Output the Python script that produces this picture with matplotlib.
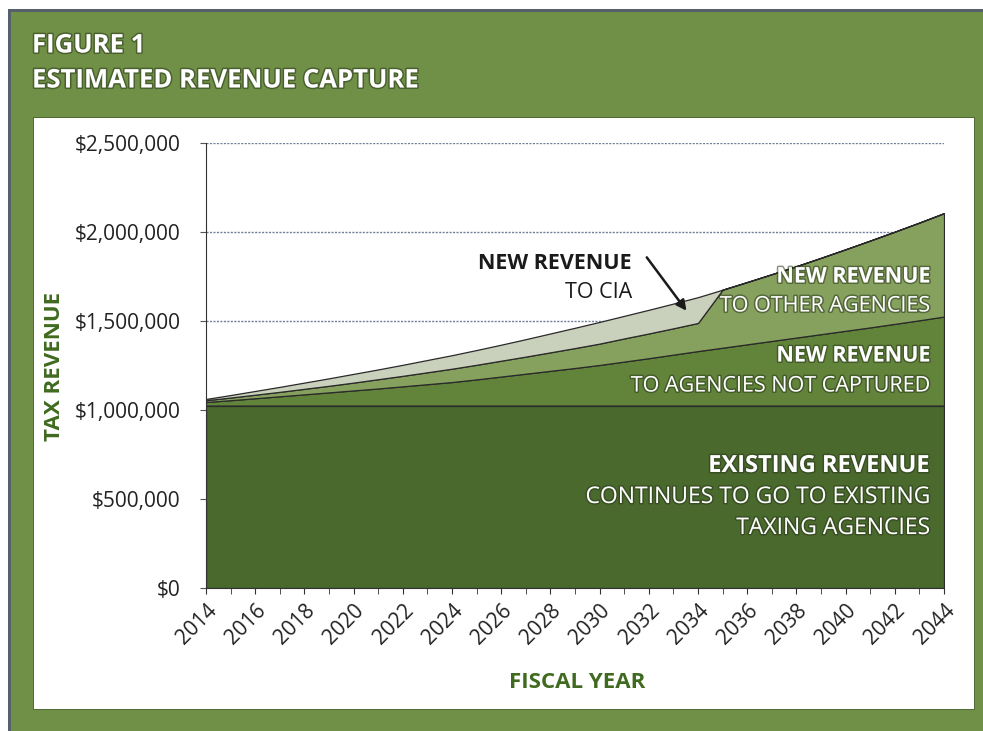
import numpy as np
import matplotlib.pyplot as plt
import matplotlib.patheffects as pe
from matplotlib.patches import Rectangle
from matplotlib.ticker import FuncFormatter, MultipleLocator

# データ（千ドル単位で読み取り）
years = list(range(2014, 2045))
existing = [1025] * 31
not_captured = [20, 30, 41, 52, 63, 74, 85, 96, 108, 120, 132, 147, 163, 179, 195, 211,
                228, 247, 266, 286, 306, 325, 344, 363, 382, 401, 420, 439, 459, 479, 500]
other_agencies = [10, 15, 20, 25, 31, 37, 44, 52, 59, 67, 75, 82, 89, 96, 104, 112,
                  120, 130, 139, 148, 158, 326, 350, 375, 401, 429, 458, 488, 518, 549, 581]
to_cia = [7, 14, 21, 28, 35, 42, 49, 55, 62, 69, 76, 83, 90, 98, 106, 114,
          122, 127, 133, 139, 145, 0, 0, 0, 0, 0, 0, 0, 0, 0, 0]
y_ticks = [0, 500000, 1000000, 1500000, 2000000, 2500000]

FRAME_GREEN = '#6f9046'
DARK_GREEN = '#4a6a2d'
MID_GREEN = '#62843a'
LIGHT_GREEN = '#86a05e'
CIA_GREEN = '#c9d0bb'
LABEL_GREEN = '#3f6a1f'

plt.rcParams['font.family'] = ['Open Sans', 'DejaVu Sans']

fig = plt.figure(figsize=(9.83, 7.31), dpi=100)
fig.patch.set_facecolor('white')

# 枠（グレーの縁、緑の枠、白いパネル）
fig.patches.append(Rectangle((8 / 983, 0), 1, 722 / 731, transform=fig.transFigure,
                             facecolor='#55606a', edgecolor='none', zorder=-10))
fig.patches.append(Rectangle((10.5 / 983, 0), 1, 719 / 731, transform=fig.transFigure,
                             facecolor=FRAME_GREEN, edgecolor='none', zorder=-9))
fig.patches.append(Rectangle((33 / 983, 22 / 731), 941 / 983, 592 / 731,
                             transform=fig.transFigure, facecolor='white',
                             edgecolor='#3c5a22', linewidth=0.6, zorder=-8))

shadow = [pe.withStroke(linewidth=2.2, foreground='#2b3a1c', alpha=0.55)]

fig.text(32 / 983, 1 - 45 / 731, 'FIGURE 1', color='white', fontsize=18.5,
         fontweight='bold', va='center', ha='left', path_effects=shadow)
fig.text(32 / 983, 1 - 80 / 731, 'ESTIMATED REVENUE CAPTURE', color='white', fontsize=18.5,
         fontweight='bold', va='center', ha='left', path_effects=shadow)

ax = fig.add_axes([206 / 983, 1 - 588 / 731, 738 / 983, 445 / 731])
ax.set_facecolor('none')
ax.set_zorder(1)

vals = np.array([existing, not_captured, other_agencies, to_cia], dtype=float) * 1000
ax.stackplot(years, vals, colors=[DARK_GREEN, MID_GREEN, LIGHT_GREEN, CIA_GREEN],
             edgecolor='#2a2a2a', linewidth=0.9, zorder=2)

ax.set_xlim(2014, 2044)
ax.set_ylim(0, 2500000)
ax.set_yticks(y_ticks)
ax.yaxis.set_major_formatter(FuncFormatter(lambda v, p: f'${v:,.0f}'))
ax.xaxis.set_major_locator(MultipleLocator(2))
ax.xaxis.set_minor_locator(MultipleLocator(1))
ax.grid(axis='y', color='#6f7f98', linestyle=(0, (1.5, 1)), linewidth=1.0, zorder=1)
ax.set_axisbelow(True)

for s in ['top', 'right']:
    ax.spines[s].set_visible(False)
ax.spines['left'].set_color('#333333')
ax.spines['bottom'].set_color('#333333')
ax.spines['left'].set_zorder(3)

ax.tick_params(axis='y', direction='out', length=4.5, color='#555555',
               labelsize=15, labelcolor='#222222', pad=14)
ax.tick_params(axis='x', which='both', direction='out', length=4.5, color='#333333')
ax.tick_params(axis='x', labelsize=15, labelcolor='#222222', pad=4)
for lab in ax.get_xticklabels():
    lab.set_rotation(45)
    lab.set_ha('right')
    lab.set_va('top')
    lab.set_rotation_mode('anchor')

# 軸ラベル
fig.text(55 / 983, 1 - 366 / 731, 'TAX REVENUE', color=LABEL_GREEN, fontsize=16,
         fontweight='bold', rotation=90, ha='center', va='center')
fig.text(577 / 983, 1 - 683 / 731, 'FISCAL YEAR', color=LABEL_GREEN, fontsize=16,
         fontweight='bold', ha='center', va='center')

# 注記
def fig_xy(px, py):
    return px / 983, 1 - py / 731

fig.text(*fig_xy(632, 263), 'NEW REVENUE', color='#1a1a1a', fontsize=15.5,
         fontweight='bold', ha='right', va='center', zorder=5)
fig.text(*fig_xy(632, 293), 'TO CIA', color='#1a1a1a', fontsize=15.5,
         ha='right', va='center', zorder=5)
ax.annotate('', xy=(2033.6, 1545000), xytext=(2031.85, 1870000),
            arrowprops=dict(arrowstyle='-|>', color='#1a1a1a', lw=1.8,
                            mutation_scale=15), zorder=5)

labels = [
    (277, 'NEW REVENUE', 'bold', 15.5),
    (306, 'TO OTHER AGENCIES', 'normal', 15.5),
    (356, 'NEW REVENUE', 'bold', 15.5),
    (386, 'TO AGENCIES NOT CAPTURED', 'normal', 15.5),
    (466, 'EXISTING REVENUE', 'bold', 17),
    (497, 'CONTINUES TO GO TO EXISTING', 'normal', 16.5),
    (528, 'TAXING AGENCIES', 'normal', 16.5),
]
for py, txt, w, fs in labels:
    fig.text(*fig_xy(930, py), txt, color='white', fontsize=fs, fontweight=w,
             ha='right', va='center', path_effects=shadow, zorder=5)

plt.savefig('out.png', dpi=100)
plt.close()
